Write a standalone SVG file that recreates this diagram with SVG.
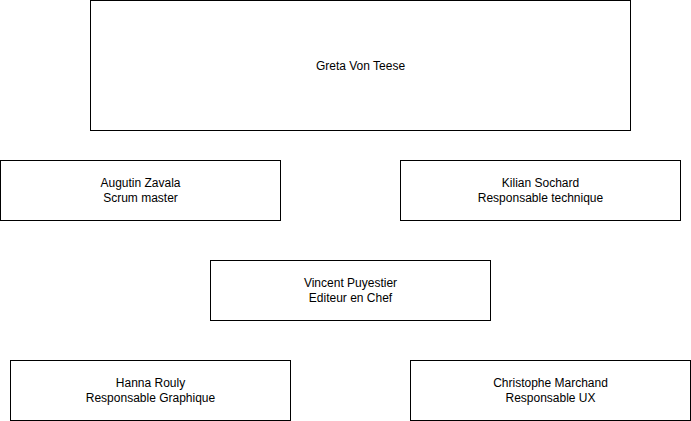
<svg xmlns="http://www.w3.org/2000/svg" width="691" height="421" viewBox="0 0 691 421">
<style>
.box{fill:#fff;stroke:#000;stroke-width:1}
.t{font-family:"Liberation Sans",Arial,Helvetica,sans-serif;font-size:12px;fill:#000;text-anchor:middle}
</style>
<rect width="691" height="421" fill="#fff"/>
<g id="connectors"></g>
<g id="greta"><rect class="box" x="90.5" y="0.5" width="540" height="130"/><text class="t" x="360.5" y="69.5">Greta Von Teese</text></g>
<g id="augutin"><rect class="box" x="0.5" y="160.5" width="280" height="60"/><text class="t" x="140.5" y="187">Augutin Zavala</text><text class="t" x="140.5" y="201.5">Scrum master</text></g>
<g id="kilian"><rect class="box" x="400.5" y="160.5" width="280" height="60"/><text class="t" x="540.5" y="187">Kilian Sochard</text><text class="t" x="540.5" y="201.5">Responsable technique</text></g>
<g id="vincent"><rect class="box" x="210.5" y="260.5" width="280" height="60"/><text class="t" x="350.5" y="287">Vincent Puyestier</text><text class="t" x="350.5" y="301.5">Editeur en Chef</text></g>
<g id="hanna"><rect class="box" x="10.5" y="360.5" width="280" height="60"/><text class="t" x="150.5" y="387">Hanna Rouly</text><text class="t" x="150.5" y="401.5">Responsable Graphique</text></g>
<g id="christophe"><rect class="box" x="410.5" y="360.5" width="280" height="60"/><text class="t" x="550.5" y="387">Christophe Marchand</text><text class="t" x="550.5" y="401.5">Responsable UX</text></g>
</svg>
